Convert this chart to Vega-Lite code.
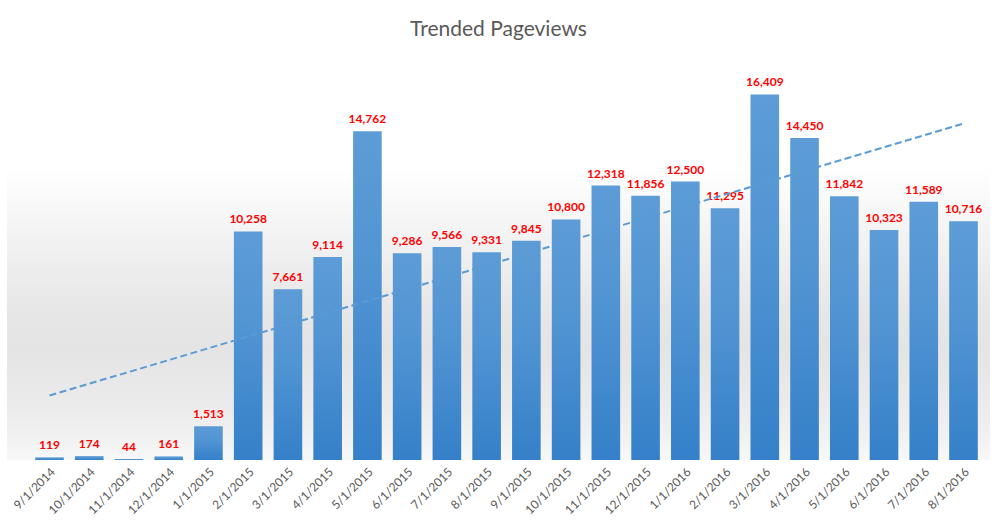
{
  "$schema": "https://vega.github.io/schema/vega-lite/v6.json",
  "width": 983,
  "height": 401,
  "autosize": {"type": "none"},
  "padding": {"left": 7, "top": 59, "right": 10, "bottom": 65},
  "background": "white",
  "title": {
    "text": "Trended Pageviews",
    "font": "Lato",
    "fontSize": 21,
    "fontWeight": "normal",
    "color": "#595959",
    "anchor": "middle",
    "baseline": "alphabetic",
    "offset": 2
  },
  "config": {
    "font": "Lato",
    "view": {
      "stroke": null,
      "fill": {
        "gradient": "linear",
        "x1": 0, "y1": 0, "x2": 0, "y2": 1,
        "stops": [
          {"offset": 0, "color": "#ffffff"},
          {"offset": 0.27, "color": "#ffffff"},
          {"offset": 0.45, "color": "#f2f2f2"},
          {"offset": 0.62, "color": "#e7e7e7"},
          {"offset": 0.72, "color": "#e4e4e4"},
          {"offset": 0.86, "color": "#ebebeb"},
          {"offset": 0.94, "color": "#f1f1f1"},
          {"offset": 1, "color": "#f8f8f8"}
        ]
      }
    }
  },
  "data": {
    "values": [
      {"month": "9/1/2014", "views": 119},
      {"month": "10/1/2014", "views": 174},
      {"month": "11/1/2014", "views": 44},
      {"month": "12/1/2014", "views": 161},
      {"month": "1/1/2015", "views": 1513},
      {"month": "2/1/2015", "views": 10258},
      {"month": "3/1/2015", "views": 7661},
      {"month": "4/1/2015", "views": 9114},
      {"month": "5/1/2015", "views": 14762},
      {"month": "6/1/2015", "views": 9286},
      {"month": "7/1/2015", "views": 9566},
      {"month": "8/1/2015", "views": 9331},
      {"month": "9/1/2015", "views": 9845},
      {"month": "10/1/2015", "views": 10800},
      {"month": "11/1/2015", "views": 12318},
      {"month": "12/1/2015", "views": 11856},
      {"month": "1/1/2016", "views": 12500},
      {"month": "2/1/2016", "views": 11295},
      {"month": "3/1/2016", "views": 16409},
      {"month": "4/1/2016", "views": 14450},
      {"month": "5/1/2016", "views": 11842},
      {"month": "6/1/2016", "views": 10323},
      {"month": "7/1/2016", "views": 11589},
      {"month": "8/1/2016", "views": 10716}
    ]
  },
  "layer": [
    {
      "encoding": {
        "x": {
          "field": "month",
          "type": "ordinal",
          "sort": null,
          "scale": {"paddingInner": 0.28, "paddingOuter": 0.508, "align": 0.698, "round": false},
          "axis": {
            "title": null,
            "labelAngle": -45,
            "labelFontSize": 12,
            "labelColor": "#595959",
            "labelPadding": 6,
            "ticks": false,
            "domain": false,
            "grid": false
          }
        },
        "y": {
          "field": "views",
          "type": "quantitative",
          "scale": {"domain": [0, 18000], "nice": false},
          "axis": null
        }
      },
      "layer": [
        {
          "mark": {
            "type": "bar",
            "color": {
              "gradient": "linear",
              "x1": 0, "y1": 0, "x2": 0, "y2": 1,
              "stops": [
                {"offset": 0, "color": "#5d9cd6"},
                {"offset": 0.4, "color": "#5295d3"},
                {"offset": 1, "color": "#3580c9"}
              ]
            }
          }
        },
        {
          "mark": {
            "type": "text",
            "dy": -8,
            "baseline": "alphabetic",
            "color": "#ff0000",
            "fontWeight": "bold",
            "fontSize": 12
          },
          "encoding": {
            "text": {"field": "views", "type": "quantitative", "format": ","}
          }
        }
      ]
    },
    {
      "transform": [
        {"window": [{"op": "row_number", "as": "n"}]},
        {"regression": "views", "on": "n"}
      ],
      "mark": {"type": "line", "strokeDash": [7, 3.5], "strokeWidth": 2, "color": "#5b9bd5"},
      "encoding": {
        "x": {
          "field": "n",
          "type": "quantitative",
          "scale": {"domain": [-0.0695, 24.666], "nice": false, "zero": false},
          "axis": null
        },
        "y": {"field": "views", "type": "quantitative"}
      }
    }
  ],
  "resolve": {"scale": {"x": "independent"}}
}
